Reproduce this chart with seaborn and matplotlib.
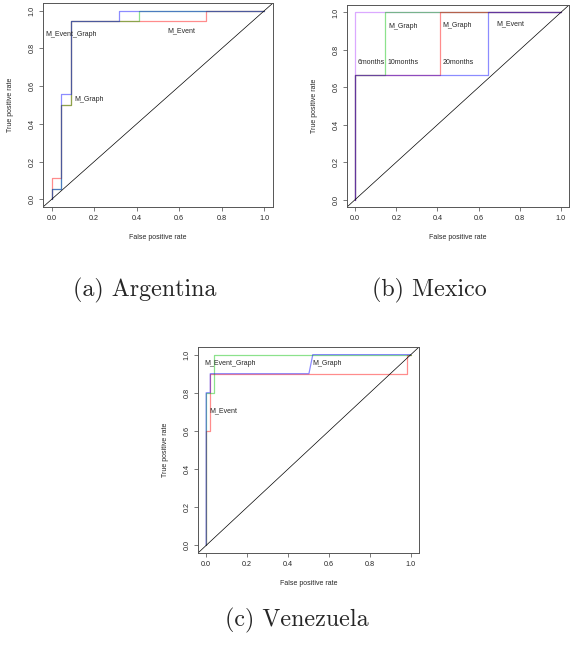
import matplotlib
matplotlib.use("Agg")
import matplotlib.pyplot as plt
import seaborn as sns

# ---- data: ROC curves ----
ticks = [0.0, 0.2, 0.4, 0.6, 0.8, 1.0]
tick_labels = ["0.0", "0.2", "0.4", "0.6", "0.8", "1.0"]

# (a) Argentina
arg_event_fpr = [0, 0, 0.045, 0.045, 0.091, 0.091, 0.727, 0.727, 1]
arg_event_tpr = [0, 0.111, 0.111, 0.5, 0.5, 0.944, 0.944, 1, 1]
arg_evgraph_fpr = [0, 0, 0.045, 0.045, 0.091, 0.091, 0.409, 0.409, 1]
arg_evgraph_tpr = [0, 0.056, 0.056, 0.5, 0.5, 0.944, 0.944, 1, 1]
arg_graph_fpr = [0, 0, 0.045, 0.045, 0.091, 0.091, 0.318, 0.318, 1]
arg_graph_tpr = [0, 0.056, 0.056, 0.556, 0.556, 0.944, 0.944, 1, 1]

# (b) Mexico
mex_6m_fpr = [0, 0, 0, 1]
mex_6m_tpr = [0, 0.667, 1, 1]
mex_10m_fpr = [0, 0, 0.143, 0.143, 1]
mex_10m_tpr = [0, 0.667, 0.667, 1, 1]
mex_20m_fpr = [0, 0, 0.412, 0.412, 1]
mex_20m_tpr = [0, 0.667, 0.667, 1, 1]
mex_event_fpr = [0, 0, 0.647, 0.647, 1]
mex_event_tpr = [0, 0.667, 0.667, 1, 1]

# (c) Venezuela
ven_event_fpr = [0, 0, 0.02, 0.02, 0.98, 0.98, 1]
ven_event_tpr = [0, 0.6, 0.6, 0.9, 0.9, 1, 1]
ven_evgraph_fpr = [0, 0, 0.04, 0.04, 1]
ven_evgraph_tpr = [0, 0.8, 0.8, 1, 1]
ven_graph_fpr = [0, 0, 0.02, 0.02, 0.502, 0.521, 1]
ven_graph_tpr = [0, 0.8, 0.8, 0.9, 0.9, 1, 1]

# in-plot labels: (text, x, y, horizontal alignment)
arg_labels = [("M_Event_Graph", 0.093, 0.872, "center"), ("M_Graph", 0.178, 0.530, "center"),
              ("M_Event", 0.612, 0.895, "center")]
mex_labels = [("M_Graph", 0.232, 0.925, "center"), ("M_Graph", 0.497, 0.932, "center"),
              ("M_Event", 0.756, 0.939, "center"),
              ("6months", 0.012, 0.735, "left"), ("10months", 0.156, 0.735, "left"),
              ("20months", 0.425, 0.735, "left")]
ven_labels = [("M_Event_Graph", 0.118, 0.953, "center"), ("M_Graph", 0.59, 0.956, "center"),
              ("M_Event", 0.084, 0.704, "center")]

captions = ["(a) Argentina", "(b) Mexico", "(c) Venezuela"]

sns.set_theme(style="white")
plt.rcParams["font.family"] = ["Liberation Sans", "DejaVu Sans"]

fig = plt.figure(figsize=(5.74, 6.51), dpi=100)
ax_a = fig.add_axes([43 / 574, 1 - 207 / 651, 230 / 574, 204 / 651])
ax_b = fig.add_axes([347 / 574, 1 - 207 / 651, 222 / 574, 202 / 651])
ax_c = fig.add_axes([198 / 574, 1 - 553 / 651, 221 / 574, 206 / 651])

RED, GREEN, BLUE, PURPLE = "#ff0000", "#00c000", "#0000ff", "#b040ff"
FS = 5.0


def roc(ax, fpr, tpr, color):
    sns.lineplot(x=fpr, y=tpr, sort=False, estimator=None, ax=ax,
                 color=color, alpha=0.45, linewidth=0.9)


def style(ax, labels):
    ax.axline((0, 0), (1, 1), color="black", linewidth=0.5)
    ax.set_xlim(-0.04, 1.04)
    ax.set_ylim(-0.04, 1.04)
    ax.set_xticks(ticks, tick_labels)
    ax.set_yticks(ticks, tick_labels)
    ax.tick_params(axis="both", direction="out", length=3, width=0.5, color="#444444",
                   labelsize=5.2, pad=2.5, bottom=True, left=True)
    for lab in ax.get_yticklabels():
        lab.set_rotation(90)
        lab.set_va("center")
    for sp in ax.spines.values():
        sp.set_color("#555555")
        sp.set_linewidth(0.7)
    ax.set_xlabel("False positive rate", fontsize=FS)
    ax.set_ylabel("True positive rate", fontsize=FS)
    h = ax.get_position().height * 651
    w = ax.get_position().width * 574
    ax.xaxis.set_label_coords(0.5, -27 / h)
    ax.yaxis.set_label_coords(-29 / w, 0.5)
    for txt, x, y, ha in labels:
        ax.text(x, y, txt, fontsize=FS, ha=ha, va="center")


roc(ax_a, arg_event_fpr, arg_event_tpr, RED)
roc(ax_a, arg_evgraph_fpr, arg_evgraph_tpr, GREEN)
roc(ax_a, arg_graph_fpr, arg_graph_tpr, BLUE)
style(ax_a, arg_labels)

roc(ax_b, mex_6m_fpr, mex_6m_tpr, PURPLE)
roc(ax_b, mex_10m_fpr, mex_10m_tpr, GREEN)
roc(ax_b, mex_20m_fpr, mex_20m_tpr, RED)
roc(ax_b, mex_event_fpr, mex_event_tpr, BLUE)
style(ax_b, mex_labels)

roc(ax_c, ven_event_fpr, ven_event_tpr, RED)
roc(ax_c, ven_evgraph_fpr, ven_evgraph_tpr, GREEN)
roc(ax_c, ven_graph_fpr, ven_graph_tpr, BLUE)
style(ax_c, ven_labels)

# captions in a Computer Modern-like serif
cap_pos = [(145 / 574, 1 - 290 / 651), (429 / 574, 1 - 290 / 651), (297 / 574, 1 - 620 / 651)]
for cap, (x, y) in zip(captions, cap_pos):
    fig.text(x, y, cap, fontsize=17.3, family="cmr10", ha="center", va="center")

fig.savefig("out.png", dpi=100)
